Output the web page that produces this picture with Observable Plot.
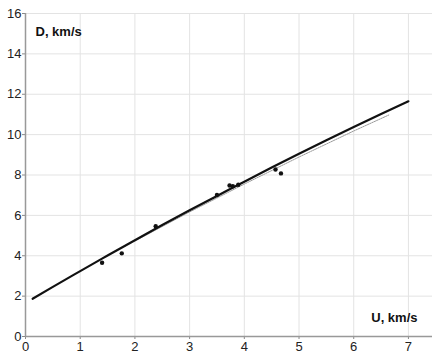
<!DOCTYPE html>
<html>
<head>
<meta charset="utf-8">
<script src="https://cdn.jsdelivr.net/npm/d3@7"></script>
<script src="https://cdn.jsdelivr.net/npm/@observablehq/plot@0.6"></script>
<style>
  html, body { margin: 0; padding: 0; background: #fff; }
  #chart svg { display: block; }
</style>
</head>
<body>
<div id="chart"></div>
<script>
// Fitted curve (solid)
const curveU = [0.13, 0.5, 1, 1.5, 2, 2.5, 3, 3.5, 4, 4.5, 5, 5.5, 6, 6.5, 7];
const curveD = [1.87, 2.46, 3.24, 4.01, 4.77, 5.52, 6.25, 6.96, 7.67, 8.37, 9.05, 9.72, 10.38, 11.02, 11.65];
// Dashed reference line
const dashU = [2.0, 3.0, 4.0, 5.0, 6.0, 6.64];
const dashD = [4.73, 6.17, 7.55, 8.89, 10.18, 10.97];
// Experimental points
const pointU = [1.40, 1.76, 2.38, 3.50, 3.73, 3.79, 3.89, 4.57, 4.67];
const pointD = [3.65, 4.12, 5.46, 7.01, 7.48, 7.44, 7.52, 8.27, 8.08];
// Ticks
const xTicks = [0, 1, 2, 3, 4, 5, 6, 7];
const yTicks = [0, 2, 4, 6, 8, 10, 12, 14, 16];
const xLabel = "U, km/s";
const yLabel = "D, km/s";

const curve = curveU.map((u, i) => ({u, d: curveD[i]}));
const dash = dashU.map((u, i) => ({u, d: dashD[i]}));
const pts = pointU.map((u, i) => ({u, d: pointD[i]}));

const chart = Plot.plot({
  width: 432,
  height: 356,
  marginLeft: 25,
  marginRight: 0,
  marginTop: 13,
  marginBottom: 20,
  style: {fontFamily: "'Liberation Sans', Arial, sans-serif", fontSize: "13px", color: "#222", background: "#fff"},
  x: {domain: [0, 7.44]},
  y: {domain: [0, 16]},
  marks: [
    Plot.gridX(xTicks.filter(t => t > 0), {stroke: "#e3e3e3", strokeOpacity: 1}),
    Plot.gridY(yTicks.filter(t => t > 0), {stroke: "#e3e3e3", strokeOpacity: 1}),
    Plot.axisX({ticks: xTicks, tickSize: 3, tickPadding: 2, stroke: "#888", label: null, fontSize: 13}),
    Plot.axisY({ticks: yTicks, tickSize: 3, tickPadding: 1, stroke: "#888", label: null, fontSize: 13}),
    Plot.ruleX([0], {stroke: "#999", strokeWidth: 1.5}),
    Plot.ruleY([0], {stroke: "#999", strokeWidth: 1.5}),
    Plot.line(dash, {x: "u", y: "d", stroke: "#999", strokeWidth: 1, strokeDasharray: "1.5,1"}),
    Plot.line(curve, {x: "u", y: "d", stroke: "#111", strokeWidth: 2.2, curve: "natural"}),
    Plot.dot(pts, {x: "u", y: "d", r: 2.2, fill: "#111", stroke: "none"}),
    Plot.text([yLabel], {frameAnchor: "top-left", dx: 10, dy: 13, lineAnchor: "top", textAnchor: "start", fontWeight: "bold", fontSize: 13, fill: "#111"}),
    Plot.text([xLabel], {frameAnchor: "bottom-right", dx: -15, dy: -15, lineAnchor: "bottom", textAnchor: "end", fontWeight: "bold", fontSize: 13, fill: "#111"})
  ]
});
document.getElementById("chart").appendChild(chart);
</script>
</body>
</html>
